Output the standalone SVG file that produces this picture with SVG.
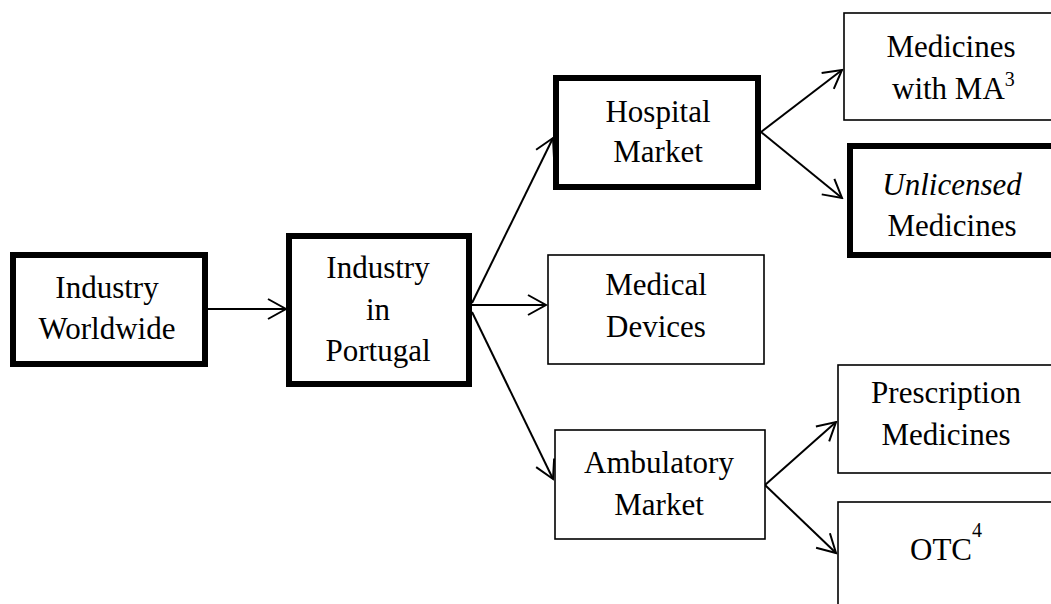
<svg xmlns="http://www.w3.org/2000/svg" width="1051" height="604" viewBox="0 0 1051 604">
<defs>
<style>
.thick{fill:#fff;stroke:#000;stroke-width:6}
.thin{fill:#fff;stroke:#000;stroke-width:1.6}
.t{font-family:'Liberation Serif','Tinos','Times New Roman','DejaVu Serif',serif;font-size:31px;fill:#000;text-anchor:middle}
.c line{stroke:#000;stroke-width:2;fill:none;marker-end:url(#ah)}
</style>
<marker id="ah" markerUnits="userSpaceOnUse" viewBox="-20 -12 22 24" markerWidth="22" markerHeight="24" refX="0" refY="0" orient="auto">
<path d="M-18,-10 L0,0 L-18,10" fill="none" stroke="#000" stroke-width="2"/>
</marker>
</defs>
<rect width="1051" height="604" fill="#fff"/>
<g class="c" id="connectors">
<line x1="205" y1="309" x2="286" y2="309"/>
<line x1="472" y1="303" x2="553" y2="138"/>
<line x1="472" y1="305" x2="546" y2="305"/>
<line x1="472" y1="312" x2="553" y2="479"/>
<line x1="761" y1="132" x2="842" y2="70"/>
<line x1="761" y1="132" x2="842" y2="198"/>
<line x1="765" y1="485" x2="836" y2="422"/>
<line x1="765" y1="485" x2="836" y2="553"/>
</g>
<g id="industry-worldwide">
<rect class="thick" x="13" y="255" width="192" height="109"/>
<text class="t" x="107" y="298">Industry</text>
<text class="t" x="107" y="339">Worldwide</text>
</g>
<g id="industry-portugal">
<rect class="thick" x="289" y="236" width="180" height="148"/>
<text class="t" x="378" y="278">Industry</text>
<text class="t" x="378" y="320">in</text>
<text class="t" x="378" y="361">Portugal</text>
</g>
<g id="hospital-market">
<rect class="thick" x="556" y="78" width="202" height="109"/>
<text class="t" x="658" y="122">Hospital</text>
<text class="t" x="658" y="162">Market</text>
</g>
<g id="medical-devices">
<rect class="thin" x="548" y="255" width="216" height="109"/>
<text class="t" x="656" y="295">Medical</text>
<text class="t" x="656" y="337">Devices</text>
</g>
<g id="ambulatory-market">
<rect class="thin" x="555" y="430" width="210" height="109"/>
<text class="t" x="659" y="473">Ambulatory</text>
<text class="t" x="659" y="515">Market</text>
</g>
<g id="medicines-ma">
<rect class="thin" x="844" y="13" width="214" height="107"/>
<text class="t" x="951" y="57">Medicines</text>
<text class="t" x="892" y="99" style="text-anchor:start">with MA<tspan font-size="20" dy="-13">3</tspan></text>
</g>
<g id="unlicensed-medicines">
<rect class="thick" x="850" y="146" width="210" height="109"/>
<text class="t" x="952" y="195" font-style="italic">Unlicensed</text>
<text class="t" x="952" y="236">Medicines</text>
</g>
<g id="prescription-medicines">
<rect class="thin" x="838" y="365" width="220" height="108"/>
<text class="t" x="946" y="403">Prescription</text>
<text class="t" x="946" y="445">Medicines</text>
</g>
<g id="otc">
<rect class="thin" x="838" y="502" width="220" height="120"/>
<text class="t" x="910" y="560" style="text-anchor:start">OTC<tspan font-size="20" dy="-23">4</tspan></text>
</g>
</svg>
